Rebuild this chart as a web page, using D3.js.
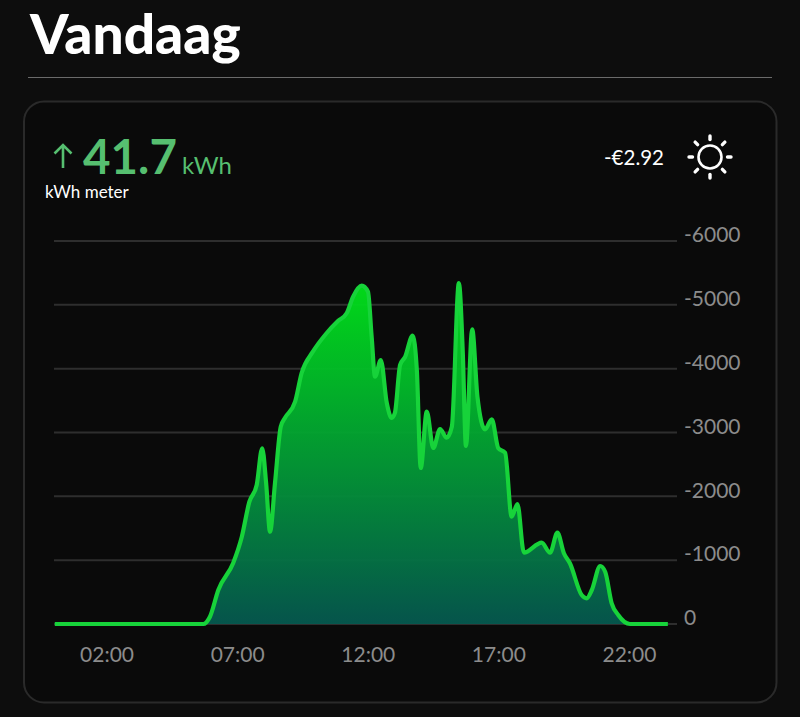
<!DOCTYPE html>
<html><head><meta charset="utf-8">
<script src="https://cdn.jsdelivr.net/npm/d3@7"></script>
<style>
html,body{margin:0;padding:0;background:#0d0d0d;width:800px;height:717px;overflow:hidden}
svg{display:block;font-family:Lato,sans-serif}
.tick text{font-family:Lato,sans-serif}
</style></head><body><svg id="c" width="800" height="717"></svg>
<script>
const hours=[0,5.48,5.685,5.94,6.26,6.83,7.16,7.45,7.73,7.94,8.09,8.24,8.43,8.65,8.81,9.20,9.45,9.88,10.41,10.84,11.18,11.42,11.75,11.99,12.13,12.26,12.48,12.71,12.90,13.02,13.22,13.41,13.70,13.86,14.01,14.24,14.49,14.75,15.00,15.20,15.47,15.62,15.74,15.98,16.18,16.47,16.73,16.98,17.24,17.49,17.71,17.96,18.64,18.96,19.24,19.49,19.72,20.17,20.36,20.56,20.88,21.07,21.32,21.57,22.02,23.47];
const watts=[0,0,0,-114,-533,-956,-1368,-1916,-2178,-2753,-2209,-1446,-2209,-3091,-3227,-3483,-3932,-4266,-4559,-4747,-4872,-5127,-5300,-5206,-4501,-3874,-4136,-3462,-3227,-3306,-4058,-4183,-4517,-3979,-2444,-3326,-2757,-3055,-2919,-3091,-5342,-4246,-2789,-4617,-3561,-3050,-3207,-2753,-2684,-1681,-1880,-1117,-1274,-1117,-1430,-1108,-951,-454,-403,-533,-909,-819,-324,-141,0,0];
const xTicks=[2,7,12,17,22];
const xLabels=["02:00","07:00","12:00","17:00","22:00"];
const yTicks=[0,-1000,-2000,-3000,-4000,-5000,-6000];

const svg=d3.select("#c");
const x=d3.scaleLinear().domain([0,24]).range([54.8,681.7]);
const y=d3.scaleLinear().domain([0,-6000]).range([624,241]);
const pts=hours.map((h,i)=>[h,watts[i]]);

svg.append("text").attr("x",30).attr("y",53.5).attr("fill","#fff").attr("font-size",55).attr("font-weight",900).style("font-family","Lato").text("Vandaag");
svg.append("line").attr("x1",28).attr("x2",772).attr("y1",77.5).attr("y2",77.5).attr("stroke","#6a6a6a");
svg.append("rect").attr("x",24).attr("y",101.5).attr("width",752.5).attr("height",601).attr("rx",20).attr("fill","#0a0a0a").attr("stroke","#2a2a2a").attr("stroke-width",2);

// header
const green="#56bf70";
svg.append("path").attr("d","M63 168V145M54.5 153.5L63 145L71.5 153.5").attr("fill","none").attr("stroke",green).attr("stroke-width",2.6);
svg.append("text").attr("x",83).attr("y",174).attr("fill",green).attr("font-size",47.5).attr("font-weight",700).text("41.7");
svg.append("text").attr("x",182).attr("y",174).attr("fill",green).attr("font-size",24).text("kWh");
svg.append("text").attr("x",45).attr("y",197.5).attr("fill","#fff").attr("font-size",17).text("kWh meter");
svg.append("text").attr("x",664).attr("y",165).attr("text-anchor","end").attr("fill","#fff").attr("font-size",20.5).text("-€2.92");

// sun icon
const sun=svg.append("g").attr("transform","translate(710,157)").attr("stroke","#fff").attr("fill","none");
sun.append("circle").attr("r",11.5).attr("stroke-width",2.6);
d3.range(8).forEach(i=>sun.append("line").attr("y1",-17.5).attr("y2",-21).attr("transform",`rotate(${i*45})`).attr("stroke-width",3.4).attr("stroke-linecap","round"));

// grid + y axis
const yAxis=d3.axisRight(y).tickValues(yTicks).tickSize(0).tickPadding(0).tickFormat(d=>String(d));
const gy=svg.append("g").attr("transform","translate(684,-6)").call(yAxis);
gy.select(".domain").remove();
gy.selectAll("text").attr("fill","#8c8c8c").attr("font-size",21).attr("x",0);
svg.append("g").selectAll("line").data(yTicks).join("line")
  .attr("x1",54).attr("x2",677).attr("y1",d=>y(d)).attr("y2",d=>y(d)).attr("stroke","#2e2e2e").attr("stroke-width",2);

// area + line
const defs=svg.append("defs");
const grad=defs.append("linearGradient").attr("id","g").attr("gradientUnits","userSpaceOnUse").attr("x1",0).attr("x2",0).attr("y1",285).attr("y2",624);
grad.append("stop").attr("offset",0).attr("stop-color","#00e319");
grad.append("stop").attr("offset",1).attr("stop-color","#05584f");
const area=d3.area().x(d=>x(d[0])).y0(y(0)).y1(d=>y(d[1])).curve(d3.curveMonotoneX);
const line=d3.line().x(d=>x(d[0])).y(d=>y(d[1])).curve(d3.curveMonotoneX);
svg.append("path").datum(pts).attr("d",area).attr("fill","url(#g)").attr("fill-opacity",0.95);
svg.append("path").datum(pts).attr("d",line).attr("fill","none").attr("stroke","#17d33a").attr("stroke-width",4.2).attr("stroke-linejoin","round");

// x axis
const xAxis=d3.axisBottom(x).tickValues(xTicks).tickSize(0).tickPadding(0).tickFormat((d,i)=>xLabels[i]);
const gx=svg.append("g").attr("transform","translate(-0.5,647)").call(xAxis);
gx.select(".domain").remove();
gx.selectAll("text").attr("fill","#8c8c8c").attr("font-size",21);
</script></body></html>
